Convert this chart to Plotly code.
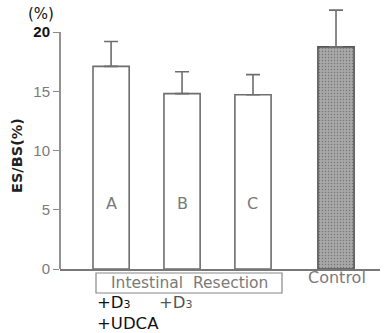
import plotly.graph_objects as go

# ---- data ----
categories = ["A", "B", "C", "Control"]
means = [17.1, 14.8, 14.7, 18.75]
sd_up = [2.1, 1.85, 1.7, 3.1]
y_ticks = [0, 5, 10, 15, 20]
y_tick_labels = ["0", "5", "10", "15", "20"]
group_label = "Intestinal&nbsp;&nbsp;Resection"
treat_row1 = ["+D<span style='font-size:11px'>3</span>", "+D<span style='font-size:11px'>3</span>"]
treat_row2 = "+UDCA"

# ---- layout constants ----
x_pos = [0, 1, 2, 3.17]
W, H = 384, 333
ML, MR, MT, MB = 60, 4, 5, 64
PW, PH = W - ML - MR, H - MT - MB
YMAX = 22.28
FONT = "Liberation Sans, Arial, sans-serif"
DFONT = "DejaVu Sans, Verdana, sans-serif"
GRAY = "#7a7a7a"

def px(xp):
    return (xp - ML) / PW

def py(yp):
    return (H - MB - yp) / PH

fills = ["white", "white", "white", "#a8a8a8"]
lines = ["#6e6e6e", "#6e6e6e", "#6e6e6e", "#555555"]
shapes_pat = ["", "", "", "."]

fig = go.Figure()
fig.add_trace(go.Bar(
    x=x_pos, y=means, width=0.51,
    marker=dict(color=fills, line=dict(color=lines, width=1.6),
                pattern=dict(shape=shapes_pat, fgcolor="#777777", size=3, solidity=0.2)),
    error_y=dict(type="data", array=sd_up, arrayminus=[0] * 4, symmetric=False,
                 color="#6e6e6e", thickness=1.6, width=7),
    hoverinfo="skip",
))

# letters inside bars
for xi, c in zip(x_pos[:3], categories[:3]):
    fig.add_annotation(x=xi, y=5.5, text=c, showarrow=False,
                       font=dict(family=DFONT, size=16, color=GRAY))

def note(xp, yp, text, size, color, xanchor="center", angle=0, family=DFONT):
    fig.add_annotation(xref="paper", yref="paper", x=px(xp), y=py(yp), text=text,
                       xanchor=xanchor, yanchor="middle", textangle=angle,
                       showarrow=False, font=dict(family=family, size=size, color=color))

note(41, 14, "(%)", 15, "#111")
note(17, 156, "<b>ES/BS(%)</b>", 14.5, "#222", angle=-90)
note(189, 283, group_label, 15.5, GRAY)
note(337, 277, "Control", 16, GRAY)
note(95, 302, treat_row1[0], 16.5, "#111", xanchor="left")
note(157, 302, treat_row1[1], 16.5, "#555", xanchor="left")
note(95, 323, treat_row2, 16.5, "#111", xanchor="left")

shapes = [
    dict(type="line", xref="paper", yref="y", x0=0, x1=0, y0=0, y1=20,
         line=dict(color="#777", width=1.6)),
    dict(type="rect", xref="paper", yref="paper", x0=px(96), x1=px(282), y0=py(273), y1=py(293),
         line=dict(color="#888", width=1.2)),
]

tt = y_tick_labels[:-1] + ['<b><span style="color:#111">' + y_tick_labels[-1] + '</span></b>']

fig.update_layout(
    width=W, height=H, margin=dict(l=ML, r=MR, t=MT, b=MB),
    paper_bgcolor="white", plot_bgcolor="white", showlegend=False,
    shapes=shapes,
    xaxis=dict(range=[-0.72, 3.79], showticklabels=False, ticks="", showgrid=False,
               zeroline=False, showline=True, linecolor="#777", linewidth=1.6),
    yaxis=dict(range=[0, YMAX], tickvals=y_ticks, ticktext=tt, ticks="outside", ticklen=6,
               tickcolor="#888", tickwidth=1.2, showgrid=False, zeroline=False, showline=False,
               tickfont=dict(family=FONT, size=15, color=GRAY)),
)
fig.write_html("out.html", config={"displayModeBar": False},
               post_script="document.body.style.margin='0px';")
